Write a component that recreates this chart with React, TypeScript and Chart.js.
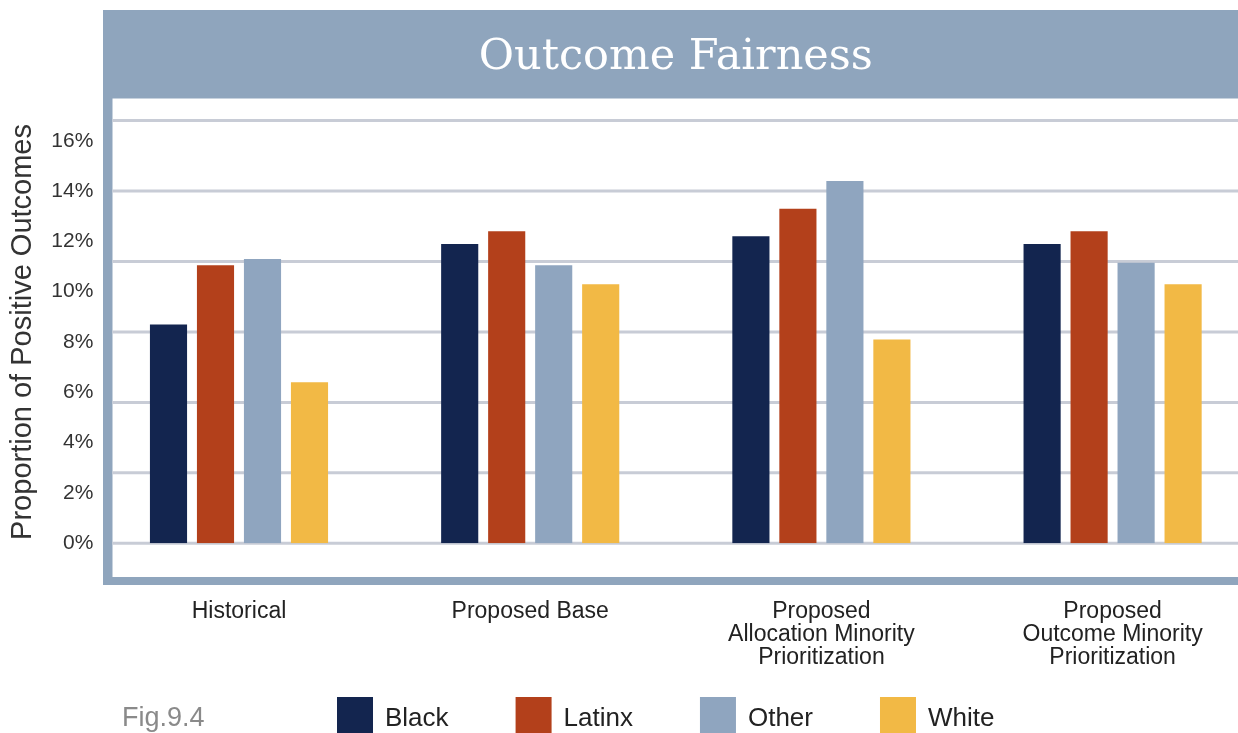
import React, { useEffect, useRef } from "react";
import { Chart, registerables } from "chart.js";

Chart.register(...registerables);

// ---------- data ----------
const CATEGORIES: (string | string[])[] = [
  "Historical",
  "Proposed Base",
  ["Proposed", "Allocation Minority", "Prioritization"],
  ["Proposed", "Outcome Minority", "Prioritization"],
];
const SERIES_NAMES = ["Black", "Latinx", "Other", "White"];
const BLACK = [8.7, 11.9, 12.2, 11.9];
const LATINX = [11.05, 12.4, 13.3, 12.4];
const OTHER = [11.3, 11.05, 14.4, 11.15];
const WHITE = [6.4, 10.3, 8.1, 10.3];
const Y_TICKS = [0, 2, 4, 6, 8, 10, 12, 14, 16];
const GRID_LINES = [0, 2.8, 5.6, 8.4, 11.2, 14, 16.8];
const Y_MAX = 16.8;
const TITLE = "Outcome Fairness";
const Y_TITLE = "Proportion of Positive Outcomes";
const FIG_LABEL = "Fig.9.4";

// ---------- styles ----------
const SANS = "'Liberation Sans', Arial, sans-serif";
const SERIF = "'DejaVu Serif', Georgia, serif";
const COLORS = ["#13254f", "#b3401b", "#8fa5bf", "#f2b945"];
const FRAME = "#8fa5bd";
const GRID = "#c8ccd6";
const W = 1329;
const H = 760;

export default function App() {
  const ref = useRef<HTMLCanvasElement>(null);

  useEffect(() => {
    const canvas = ref.current;
    if (!canvas) return;

    const framePlugin = {
      id: "frame",
      beforeDraw(chart: any) {
        const ctx = chart.ctx;
        const w = chart.width;
        ctx.save();
        ctx.fillStyle = FRAME;
        ctx.fillRect(103, 10, w - 103, 88.5);
        ctx.fillRect(103, 10, 9.5, 575);
        ctx.fillRect(103, 577, w - 103, 8);
        ctx.restore();
      },
      beforeDatasetsDraw(chart: any) {
        const ctx = chart.ctx;
        const y = chart.scales.y;
        ctx.save();
        ctx.strokeStyle = GRID;
        ctx.lineWidth = 3;
        GRID_LINES.forEach((v) => {
          const py = y.getPixelForValue(v);
          ctx.beginPath();
          ctx.moveTo(112.5, py);
          ctx.lineTo(chart.width, py);
          ctx.stroke();
        });
        ctx.restore();
      },
      afterDraw(chart: any) {
        const ctx = chart.ctx;
        ctx.save();
        // figure label
        ctx.fillStyle = "#8a8a8a";
        ctx.font = `27px ${SANS}`;
        ctx.textAlign = "left";
        ctx.textBaseline = "middle";
        ctx.fillText(FIG_LABEL, 122, 719);
        // legend
        ctx.font = `26px ${SANS}`;
        let x = 337;
        chart.data.datasets.forEach((ds: any) => {
          ctx.fillStyle = ds.backgroundColor;
          ctx.fillRect(x, 697, 36, 40);
          ctx.fillStyle = "#222222";
          ctx.fillText(ds.label, x + 48, 719);
          x += 48 + ctx.measureText(ds.label).width + 67;
        });
        ctx.restore();
      },
    };

    const series = [BLACK, LATINX, OTHER, WHITE];
    const chart = new Chart(canvas, {
      type: "bar",
      data: {
        labels: CATEGORIES as any,
        datasets: series.map((d, i) => ({
          label: SERIES_NAMES[i],
          data: d,
          backgroundColor: COLORS[i],
          borderColor: COLORS[i],
          borderWidth: 0,
          barPercentage: 0.79,
          categoryPercentage: 0.6456,
        })),
      },
      options: {
        responsive: false,
        animation: false,
        layout: { padding: 0 },
        plugins: {
          title: {
            display: true,
            text: TITLE,
            fullSize: false,
            color: "#ffffff",
            font: { family: SERIF, size: 43, weight: "normal" as any },
            padding: { top: 32.5, bottom: 36.5 },
          },
          legend: { display: false },
          tooltip: { enabled: false },
        },
        scales: {
          x: {
            grid: { display: false, drawTicks: false },
            border: { display: false },
            ticks: {
              color: "#222222",
              font: { family: SANS, size: 23, lineHeight: 1.0 },
              padding: 57,
              maxRotation: 0,
              autoSkip: false,
            },
            afterFit(s: any) {
              s.height = H - 543.3;
            },
          },
          y: {
            min: 0,
            max: Y_MAX,
            afterBuildTicks(s: any) {
              s.ticks = Y_TICKS.map((v) => ({ value: v }));
            },
            grid: { display: false, drawTicks: false },
            border: { display: false },
            ticks: {
              padding: 0,
              color: "#333333",
              font: { family: SANS, size: 21 },
              callback: (v: any) => `${v}%`,
            },
            title: {
              display: true,
              text: Y_TITLE,
              color: "#333333",
              font: { family: SANS, size: 29 },
              padding: { top: 6, bottom: 0 },
            },
            afterFit(s: any) {
              s.width = 93.4;
            },
          },
          right: {
            type: "linear",
            position: "right",
            display: true,
            grid: { display: false, drawTicks: false },
            border: { display: false },
            ticks: { display: false },
            afterFit(s: any) {
              s.width = W - 1258.2;
            },
          },
        },
      } as any,
      plugins: [framePlugin],
    });

    return () => chart.destroy();
  }, []);

  return (
    <div style={{ position: "fixed", left: 0, top: 0, width: W, height: H }}>
      <canvas ref={ref} width={W} height={H} style={{ display: "block" }} />
    </div>
  );
}
